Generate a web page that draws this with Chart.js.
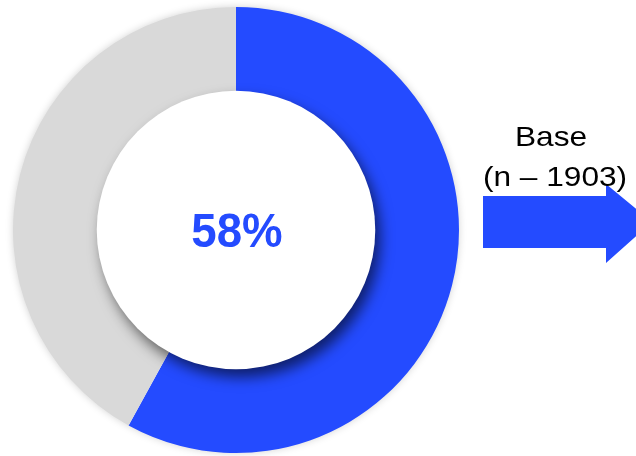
<!DOCTYPE html>
<html>
<head>
<meta charset="utf-8">
<script src="https://cdn.jsdelivr.net/npm/chart.js@4"></script>
<style>
  html, body { margin: 0; padding: 0; background: #fff; }
  #wrap { width: 636px; height: 456px; }
</style>
</head>
<body>
<div id="wrap"><canvas id="chart" width="636" height="456"></canvas></div>
<script>
// share of the base, rest in grey
var segments = ["Share", "Rest"];
var shares = [58, 42];
var segmentColors = ["#244bff", "#d9d9d9"];
var baseLabel = ["Base", "(n \u2013 1903)"];

var BLUE = "#244bff";

// soft glow under the ring, white disc with drop shadow on top
var ringDecor = {
  id: "ringDecor",
  beforeDatasetsDraw: function (chart) {
    var arc = chart.getDatasetMeta(0).data[0];
    var ctx = chart.ctx;
    ctx.save();
    ctx.shadowColor = "rgba(0,0,0,0.22)";
    ctx.shadowBlur = 9;
    ctx.fillStyle = "#fff";
    ctx.beginPath();
    ctx.arc(arc.x, arc.y, arc.outerRadius - 1, 0, Math.PI * 2);
    ctx.fill();
    ctx.restore();
  },
  afterDatasetsDraw: function (chart) {
    var arc = chart.getDatasetMeta(0).data[0];
    var ctx = chart.ctx;
    ctx.save();
    ctx.shadowColor = "rgba(0,0,0,0.58)";
    ctx.shadowBlur = 14;
    ctx.shadowOffsetX = 5;
    ctx.shadowOffsetY = 8;
    ctx.fillStyle = "#fff";
    ctx.beginPath();
    ctx.arc(arc.x, arc.y, arc.innerRadius + 1, 0, Math.PI * 2);
    ctx.fill();
    ctx.restore();

    // centre value
    ctx.save();
    ctx.fillStyle = BLUE;
    ctx.font = "bold 48px 'Liberation Sans', Arial, sans-serif";
    ctx.textAlign = "center";
    ctx.textBaseline = "alphabetic";
    ctx.translate(arc.x + 1, arc.y + 17);
    ctx.scale(0.95, 1);
    ctx.fillText(shares[0] + "%", 0, 0);
    ctx.restore();
  },
  afterDraw: function (chart) {
    var ctx = chart.ctx;
    // block arrow pointing right
    ctx.save();
    ctx.fillStyle = BLUE;
    ctx.beginPath();
    ctx.moveTo(483, 196);
    ctx.lineTo(606, 196);
    ctx.lineTo(606, 184);
    ctx.lineTo(652, 222);
    ctx.lineTo(606, 263);
    ctx.lineTo(606, 248);
    ctx.lineTo(483, 248);
    ctx.closePath();
    ctx.fill();
    ctx.restore();

    // label above the arrow, slightly wide
    ctx.save();
    ctx.fillStyle = "#000";
    ctx.font = "28px 'Liberation Sans', Arial, sans-serif";
    ctx.textAlign = "center";
    ctx.textBaseline = "alphabetic";
    var rows = [[551, 146], [555, 186]];
    baseLabel.forEach(function (t, i) {
      ctx.save();
      ctx.translate(rows[i][0], rows[i][1]);
      ctx.scale(1.13, 1);
      ctx.fillText(t, 0, 0);
      ctx.restore();
    });
    ctx.restore();
  }
};

new Chart(document.getElementById("chart"), {
  type: "doughnut",
  data: {
    labels: segments,
    datasets: [{
      data: shares,
      backgroundColor: segmentColors,
      borderWidth: 0,
      hoverOffset: 0
    }]
  },
  options: {
    responsive: false,
    animation: false,
    cutout: "62%",
    layout: { padding: { left: 13, right: 177, top: 7, bottom: 3 } },
    plugins: {
      legend: { display: false },
      tooltip: { enabled: false }
    }
  },
  plugins: [ringDecor]
});
</script>
</body>
</html>
